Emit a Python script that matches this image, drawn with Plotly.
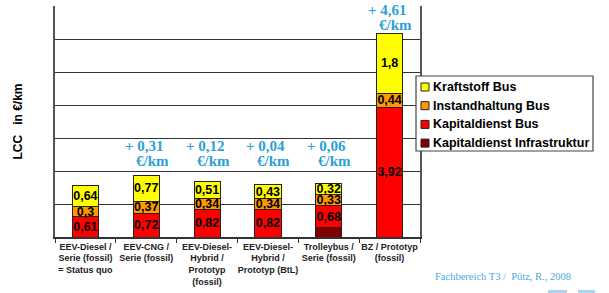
import plotly.graph_objects as go

categories = [
    "EEV-Diesel /<br>Serie (fossil)<br>= Status quo",
    "EEV-CNG /<br>Serie (fossil)",
    "EEV-Diesel-<br>Hybrid /<br>Prototyp<br>(fossil)",
    "EEV-Diesel-<br>Hybrid /<br>Prototyp (BtL)",
    "Trolleybus /<br>Serie (fossil)",
    "BZ / Prototyp<br>(fossil)",
]
kapital_infra = [0, 0, 0, 0, 0.28, 0]
kapital_bus = [0.61, 0.72, 0.82, 0.82, 0.68, 3.92]
instandhaltung = [0.30, 0.37, 0.34, 0.34, 0.33, 0.44]
kraftstoff = [0.64, 0.77, 0.51, 0.43, 0.32, 1.80]

series = [
    ("Kapitaldienst Infrastruktur", kapital_infra, "#800000"),
    ("Kapitaldienst Bus", kapital_bus, "#FF0000"),
    ("Instandhaltung Bus", instandhaltung, "#FF9900"),
    ("Kraftstoff Bus", kraftstoff, "#FFFF00"),
]

W, H = 609, 293
l, r, t, b = 55, 189, 6, 56
pw, ph = W - l - r, H - t - b


def px_x(x):
    return (x - l) / pw


def px_y(y):
    return (H - b - y) / ph


def fmt(v):
    s = f"{v:.2f}".rstrip("0").rstrip(".")
    return s.replace(".", ",")


fig = go.Figure()
for name, vals, col in series:
    fig.add_trace(go.Bar(
        x=categories, y=vals, name=name,
        marker=dict(color=col, line=dict(color="#222222", width=1)),
        text=[fmt(v) if (v > 0 and name != "Kapitaldienst Infrastruktur") else "" for v in vals],
        textposition="inside", insidetextanchor="middle",
        textangle=0, constraintext="none",
        textfont=dict(family="Liberation Sans, Arial", size=12.5, color="black", weight="bold"),
        width=0.43, showlegend=False, hoverinfo="skip",
    ))

totals = [sum(s[1][i] for s in series) for i in range(len(categories))]
annotations = []
blue_font = dict(family="Liberation Serif", size=15, color="#2A9FDB", weight="bold")
for i, tot in enumerate(totals):
    if i == 0:
        continue
    d = tot - totals[0]
    ybase = max(tot + 0.03, 2.07)
    annotations.append(dict(x=categories[i], y=ybase, xref="x", yref="y",
                            text="€/km", showarrow=False, yanchor="bottom",
                            xshift=6, yshift=-1, height=14, font=blue_font))
    annotations.append(dict(x=categories[i], y=ybase, xref="x", yref="y",
                            text="+ " + f"{d:.2f}".replace(".", ","), showarrow=False, yanchor="bottom",
                            xshift=-2, yshift=14, height=14, font=blue_font))

annotations.append(dict(x=px_x(503), y=px_y(276), xref="paper", yref="paper",
                        text="Fachbereich T3 /  Pütz, R., 2008",
                        showarrow=False, xanchor="center", yanchor="middle",
                        font=dict(family="Liberation Serif", size=10.5, color="#4AA8E0")))

# custom legend (top item = last stacked series)
shapes = []
lx0, ly0, lx1, ly1 = 416, 76, 593, 151
shapes.append(dict(type="rect", xref="paper", yref="paper",
                   x0=px_x(lx0), x1=px_x(lx1), y0=px_y(ly1), y1=px_y(ly0),
                   fillcolor="white", line=dict(color="#444444", width=1.2), layer="above"))
for k, (name, vals, col) in enumerate(reversed(series)):
    cy = 87 + k * 18.7
    shapes.append(dict(type="rect", xref="paper", yref="paper",
                       x0=px_x(421), x1=px_x(429), y0=px_y(cy + 4), y1=px_y(cy - 4),
                       fillcolor=col, line=dict(color="#222222", width=1), layer="above"))
    annotations.append(dict(x=px_x(431), y=px_y(cy), xref="paper", yref="paper",
                            text=name, showarrow=False, xanchor="left", yanchor="middle",
                            font=dict(family="Liberation Sans, Arial", size=12.5, color="black", weight="bold")))

# light blue decoration at bottom right
for x0, x1 in [(548, 567), (578, 595)]:
    shapes.append(dict(type="rect", xref="paper", yref="paper",
                       x0=px_x(x0), x1=px_x(x1), y0=px_y(293), y1=px_y(290),
                       fillcolor="#A8D4F2", line=dict(width=0), layer="above"))

fig.update_layout(
    width=W, height=H,
    margin=dict(l=l, r=r, t=t, b=b, autoexpand=False),
    paper_bgcolor="white", plot_bgcolor="white",
    barmode="stack",
    showlegend=False,
    annotations=annotations,
    shapes=shapes,
    font=dict(family="Liberation Sans, Arial"),
)

fig.update_xaxes(
    showline=True, linecolor="#333333", linewidth=1.5,
    ticks="outside", tickson="boundaries", ticklen=4, tickcolor="#333333",
    tickangle=0, automargin=False,
    tickfont=dict(family="Liberation Sans, Arial", size=9, color="#222222", weight="bold"),
    showgrid=False,
)
fig.update_yaxes(
    range=[0, 7], dtick=1, showticklabels=False,
    showgrid=True, gridcolor="#333333", gridwidth=1,
    showline=True, linecolor="#555555", linewidth=1.5, mirror=True,
    ticks="", zeroline=False, automargin=False,
    title=dict(text="LCC   in €/km", standoff=28,
               font=dict(family="Liberation Sans, Arial", size=12, color="black", weight="bold")),
)

fig.write_html("out.html", config={"displayModeBar": False},
               post_script="document.body.style.margin='0';document.body.style.overflow='hidden';")
